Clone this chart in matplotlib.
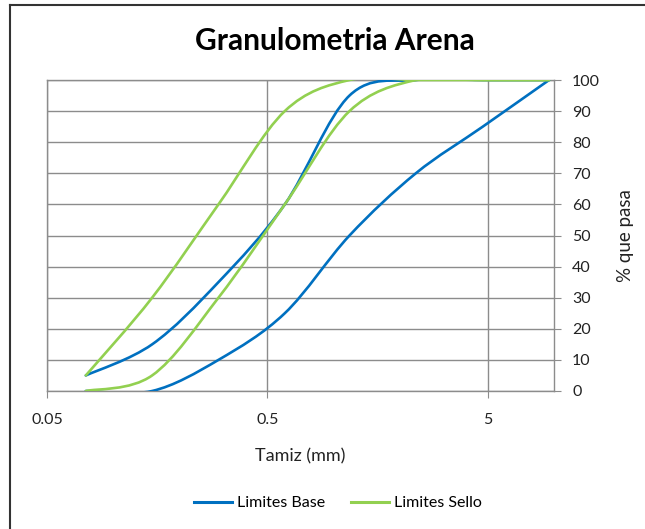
import numpy as np
import matplotlib
matplotlib.use("Agg")
import matplotlib.pyplot as plt
from matplotlib.path import Path
from matplotlib.patches import PathPatch
from matplotlib.lines import Line2D

plt.rcParams['font.family'] = ['Lato', 'DejaVu Sans']

# tamices (mm) y limites de % que pasa
tamiz = [0.075, 0.15, 0.3, 0.6, 1.18, 2.36, 4.75, 9.5]
base_inf = [0, 0, 10, 25, 50, 70, 85, 100]
base_sup = [5, 15, 35, 60, 95, 100, 100, 100]
sello_inf = [0, 5, 30, 60, 90, 100, 100, 100]
sello_sup = [5, 30, 60, 90, 100, 100, 100, 100]

azul = '#0070C0'
verde = '#92D050'


def suave(ax, xs, ys, color):
    # curva suavizada tipo Excel (bezier), en espacio log para x
    u = np.log10(np.array(xs, dtype=float))
    v = np.array(ys, dtype=float)
    n = len(u)
    verts = [(10 ** u[0], v[0])]
    codes = [Path.MOVETO]
    for i in range(n - 1):
        i0 = max(i - 1, 0)
        i3 = min(i + 2, n - 1)
        c1 = (u[i] + (u[i + 1] - u[i0]) / 6, v[i] + (v[i + 1] - v[i0]) / 6)
        c2 = (u[i + 1] - (u[i3] - u[i]) / 6, v[i + 1] - (v[i3] - v[i]) / 6)
        verts += [(10 ** c1[0], c1[1]), (10 ** c2[0], c2[1]), (10 ** u[i + 1], v[i + 1])]
        codes += [Path.CURVE4] * 3
    ax.add_patch(PathPatch(Path(verts, codes), fill=False, edgecolor=color,
                           lw=1.9, capstyle='round', joinstyle='round', zorder=3))


fig = plt.figure(figsize=(6.45, 5.29), dpi=100)
ax = fig.add_axes([47 / 645, 1 - 391 / 529, 507 / 645, 311 / 529])

ax.set_xscale('log')
ax.set_xlim(0.05, 10)
ax.set_ylim(0, 100)

suave(ax, tamiz, base_inf, azul)
suave(ax, tamiz, base_sup, azul)
suave(ax, tamiz, sello_inf, verde)
suave(ax, tamiz, sello_sup, verde)

gris = '#8c8c8c'
ax.set_xticks([0.05, 0.5, 5])
ax.set_xticklabels(['0.05', '0.5', '5'])
ax.xaxis.set_minor_locator(matplotlib.ticker.NullLocator())
ax.set_yticks(np.arange(0, 101, 10))
ax.yaxis.tick_right()
ax.yaxis.set_label_position('right')
ax.grid(True, color=gris, lw=1)
ax.set_axisbelow(True)
for s in ax.spines.values():
    s.set_color(gris)
    s.set_linewidth(1)
ax.tick_params(axis='both', colors=gris, labelcolor='#222222', labelsize=11.5,
               direction='out', length=5)
ax.tick_params(axis='x', pad=11)
ax.tick_params(axis='y', pad=8)

ax.set_xlabel('Tamiz (mm)', fontsize=13, color='#222222', labelpad=15)
ax.set_ylabel('% que pasa', fontsize=13.5, color='#222222', labelpad=12)

fig.text(335 / 645, 1 - 41 / 529, 'Granulometria Arena', ha='center', va='center',
         fontsize=21.5, fontweight='bold', color='black')

handles = [Line2D([], [], color=azul, lw=2.2), Line2D([], [], color=verde, lw=2.2)]
fig.legend(handles, ['Limites Base', 'Limites Sello'], loc='center',
           bbox_to_anchor=(338 / 645, 1 - 503 / 529), ncol=2, frameon=False,
           fontsize=11.5, handlelength=2.4, handletextpad=0.3, columnspacing=1.6)

# marco recortado
fig.add_artist(Line2D([9.5 / 645, 1], [1 - 4.5 / 529, 1 - 4.5 / 529], color='#333333', lw=1.5))
fig.add_artist(Line2D([9.5 / 645, 9.5 / 645], [0, 1 - 4.5 / 529], color='#333333', lw=1.5))

fig.savefig('out.png', dpi=100)
